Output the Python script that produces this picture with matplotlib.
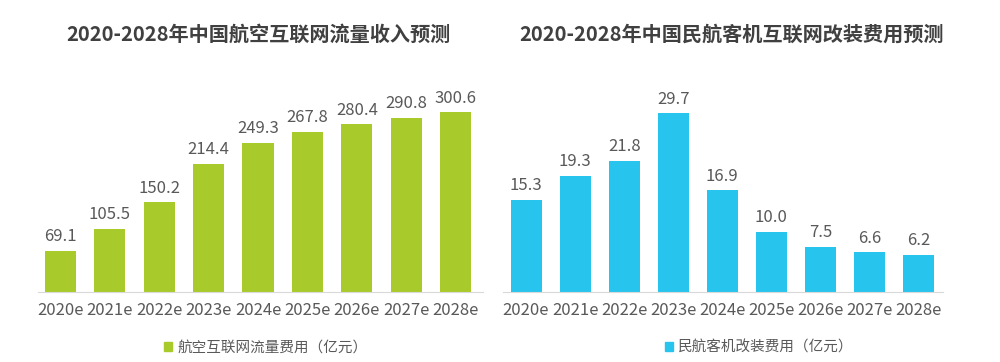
import matplotlib.pyplot as plt
from matplotlib.patches import Patch

plt.rcParams['font.family'] = ['Noto Sans CJK SC', 'DejaVu Sans']

years = ['2020e', '2021e', '2022e', '2023e', '2024e', '2025e', '2026e', '2027e', '2028e']
traffic = [69.1, 105.5, 150.2, 214.4, 249.3, 267.8, 280.4, 290.8, 300.6]
refit = [15.3, 19.3, 21.8, 29.7, 16.9, 10.0, 7.5, 6.6, 6.2]

title_left = '2020-2028年中国航空互联网流量收入预测'
title_right = '2020-2028年中国民航客机互联网改装费用预测'
legend_left = '航空互联网流量费用（亿元）'
legend_right = '民航客机改装费用（亿元）'

green = '#A8CB2B'
blue = '#27C4EE'
text_c = '#595959'

fig = plt.figure(figsize=(10, 3.62), dpi=100)
ax1 = fig.add_axes([0.038, 0.193, 0.445, 0.53])
ax2 = fig.add_axes([0.503, 0.193, 0.44, 0.53])

for ax, vals, col, ymax, title, leg, tx, lx in [
        (ax1, traffic, green, 300.6 * 192 / 180, title_left, legend_left, 0.258, 0.266),
        (ax2, refit, blue, 29.7 * 192 / 179, title_right, legend_right, 0.732, 0.759)]:
    x = range(len(years))
    bars = ax.bar(x, vals, width=0.63, color=col)
    for b, v in zip(bars, vals):
        ax.text(b.get_x() + b.get_width() / 2, v + ymax * 0.03, f'{v:.1f}',
                ha='center', va='bottom', fontsize=12, color=text_c)
    ax.set_ylim(0, ymax)
    ax.set_xticks(list(x))
    ax.set_xticklabels(years, fontsize=12, color=text_c)
    ax.tick_params(axis='x', length=0, pad=7)
    ax.set_yticks([])
    for s in ['top', 'right', 'left']:
        ax.spines[s].set_visible(False)
    ax.spines['bottom'].set_color('#D9D9D9')
    fig.text(tx, 0.905, title, ha='center', va='center', fontsize=14.5,
             fontweight='bold', color='#404040')
    fig.legend(handles=[Patch(color=col, label=leg)], loc='center',
               bbox_to_anchor=(lx, 0.04), frameon=False, fontsize=10.5,
               handlelength=0.55, handleheight=0.55, handletextpad=0.35,
               labelcolor=text_c)

ax1.set_xlim(-0.45, 8.55)
ax2.set_xlim(-0.47, 8.5)

plt.savefig('out.png', dpi=100)
